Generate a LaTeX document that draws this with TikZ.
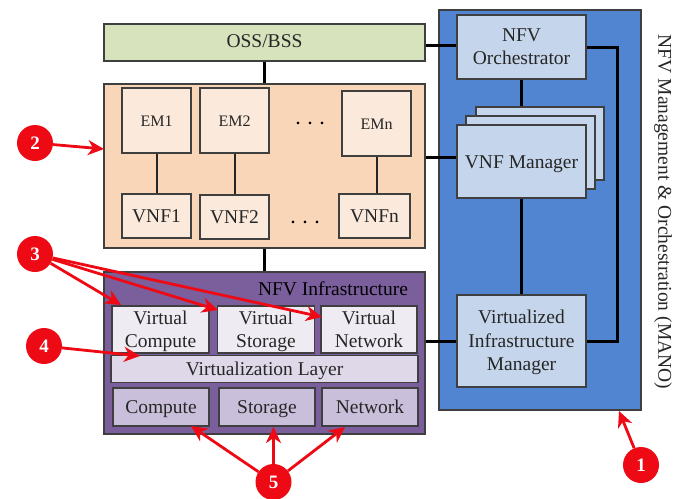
\documentclass[tikz,border=0pt]{standalone}
\usepackage{fontspec}
\setmainfont{Liberation Serif}
\usepackage{tikz}
\usetikzlibrary{arrows.meta}

\definecolor{ossgreen}{HTML}{D7E3BC}
\definecolor{vnfpeach}{HTML}{FAD6B9}
\definecolor{empeach}{HTML}{FBE9DB}
\definecolor{nfvipurple}{HTML}{7B5E9C}
\definecolor{virtgrey}{HTML}{EEECF2}
\definecolor{layergrey}{HTML}{DFD8E8}
\definecolor{hwgrey}{HTML}{C9BFDA}
\definecolor{manoblue}{HTML}{5185D2}
\definecolor{manolight}{HTML}{C5D6EC}
\definecolor{edgegrey}{HTML}{3F3F3F}
\definecolor{markred}{HTML}{EE0A14}

\tikzset{
	box/.style={draw=edgegrey, line width=1.3pt, inner sep=0pt, align=center, text=black!85,
		font=\fontsize{19.5}{23.5}\selectfont, execute at begin node={\rule{0pt}{1.05em}}, execute at end node=\strut},
	tallbox/.style={box, text depth=1pt},
	link/.style={line width=3pt, black},
	thinlink/.style={line width=2pt, black!85},
	badge/.style={circle, fill=markred, text=white, inner sep=0pt, minimum size=36pt,
		font=\fontsize{19}{19}\selectfont\bfseries},
	pointer/.style={line width=2.8pt, markred, -{Stealth[length=16pt, width=15pt, inset=5pt]}},
}

\begin{document}
\begin{tikzpicture}[x=1pt, y=-1pt]
			\useasboundingbox (0,0) rectangle (682,498);
			
			\node[box, fill=manoblue, minimum width=202pt, minimum height=400pt] (mano) at (540,210) {};
			\node[box, fill=ossgreen, minimum width=321pt, minimum height=37pt] (oss) at (264.5,42.5) {};
			\node[font=\fontsize{19.5}{23.5}\selectfont, text=black!85] (osstext) at (264.5,41) {OSS/BSS};
			\node[box, fill=vnfpeach, minimum width=321pt, minimum height=164pt] (domain) at (264.5,166) {};
			\node[box, fill=nfvipurple, minimum width=321pt, minimum height=162pt] (nfvi) at (264.5,353) {};
			
			\node[box, fill=empeach, minimum width=69pt, minimum height=65pt, font=\fontsize{16}{19}\selectfont] (em1) at (156.5,120.5) {EM1};
			\node[box, fill=empeach, minimum width=69pt, minimum height=65pt, font=\fontsize{16}{19}\selectfont] (em2) at (234.5,120.5) {EM2};
			\node[box, fill=empeach, minimum width=69pt, minimum height=65pt, font=\fontsize{16}{19}\selectfont] (emn) at (376.5,123.5) {EMn};
			\node[box, fill=empeach, minimum width=69pt, minimum height=44pt] (vnf1) at (156.5,216) {VNF1};
			\node[box, fill=empeach, minimum width=69pt, minimum height=44pt] (vnf2) at (234.5,217) {VNF2};
			\node[box, fill=empeach, minimum width=71pt, minimum height=44pt] (vnfn) at (374.5,216) {VNFn};
			\node[font=\fontsize{16}{19}\selectfont] (dotsem) at (310,123) {\textbf{.}\hspace{8pt}\textbf{.}\hspace{8pt}\textbf{.}};
			\node[font=\fontsize{16}{19}\selectfont] (dotsvnf) at (305,222) {\textbf{.}\hspace{8pt}\textbf{.}\hspace{8pt}\textbf{.}};
			
			\node[text=black, font=\fontsize{19.5}{23.5}\selectfont] (nfvitext) at (333,289) {NFV Infrastructure};
			\node[tallbox, fill=virtgrey, minimum width=97pt, minimum height=47pt] (vcompute) at (160.5,329.5) {Virtual\\Compute};
			\node[tallbox, fill=virtgrey, minimum width=97pt, minimum height=47pt] (vstorage) at (266,329.5) {Virtual\\Storage};
			\node[tallbox, fill=virtgrey, minimum width=96pt, minimum height=47pt] (vnetwork) at (369,329.5) {Virtual\\Network};
			\node[box, fill=layergrey, minimum width=307pt, minimum height=26pt] (layer) at (264.5,369) {Virtualization Layer};
			\node[box, fill=hwgrey, minimum width=96pt, minimum height=38pt] (compute) at (161,407) {Compute};
			\node[box, fill=hwgrey, minimum width=96pt, minimum height=38pt] (storage) at (267,407) {Storage};
			\node[box, fill=hwgrey, minimum width=96pt, minimum height=38pt] (network) at (370,407) {Network};
			
			\node[tallbox, fill=manolight, minimum width=129pt, minimum height=64pt] (orch) at (521.5,47) {NFV\\Orchestrator};
			\node[box, fill=manolight, minimum width=128pt, minimum height=73pt] (vnfmback) at (540,143.5) {};
			\node[box, fill=manolight, minimum width=129pt, minimum height=73pt] (vnfmmid) at (530.5,152.5) {};
			\node[box, fill=manolight, minimum width=129pt, minimum height=73pt] (vnfm) at (521.5,161.5) {VNF Manager};
			\node[tallbox, fill=manolight, minimum width=129pt, minimum height=92pt] (vim) at (521.5,341) {Virtualized\\Infrastructure\\Manager};
			
			\node[rotate=-90, text=black!85, font=\fontsize{19.5}{23.5}\selectfont] (manotext) at (663,212) {NFV Management \& Orchestration (MANO)};
			
			\draw[link] (oss) -- (domain);
			\draw[link] (domain) -- (nfvi);
			\draw[thinlink] (em1) -- (vnf1);
			\draw[thinlink] (em2) -- (vnf2);
			\draw[thinlink] (emn.south) -- (emn.south |- vnfn.north);
			\draw[link] ([yshift=2pt]orch.west) -- ([yshift=2pt]orch.west -| oss.east);
			\draw[link] ([yshift=4.5pt]vnfm.west) -- ([yshift=4.5pt]vnfm.west -| domain.east);
			\draw[link] (vim.west) -- (vim.west -| nfvi.east);
			\draw[link] (orch.south) -- (orch.south |- vnfmback.north);
			\draw[link] (vnfm) -- (vim);
			\draw[link] (orch.east) -- ++(31,0) |- (vim.east);
			
			\node[badge] (mark1) at (641,465) {1};
			\node[badge] (mark2) at (35,143) {2};
			\node[badge] (mark3) at (35,254) {3};
			\node[badge] (mark4) at (44,346) {4};
			\node[badge] (mark5) at (273.5,482) {5};
			\coordinate (tip1) at (619,411);
			\coordinate (tip2) at (104,149);
			\coordinate (tip3a) at (121,305);
			\coordinate (tip3b) at (218,310);
			\coordinate (tip3c) at (322,317);
			\coordinate (tip4) at (140,356);
			\coordinate (tip5a) at (191,426);
			\coordinate (tip5b) at (273.5,427);
			\coordinate (tip5c) at (345,427);
			
			\draw[pointer] (mark1) -- (tip1);
			\draw[pointer] (mark2) -- (tip2);
			\draw[pointer] (mark3) -- (tip3a);
			\draw[pointer] (mark3) -- (tip3b);
			\draw[pointer] (mark3) -- (tip3c);
			\draw[pointer] (mark4) -- (tip4);
			\draw[pointer] (mark5) -- (tip5a);
			\draw[pointer] (mark5) -- (tip5b);
			\draw[pointer] (mark5) -- (tip5c);
		\end{tikzpicture}
\end{document}
